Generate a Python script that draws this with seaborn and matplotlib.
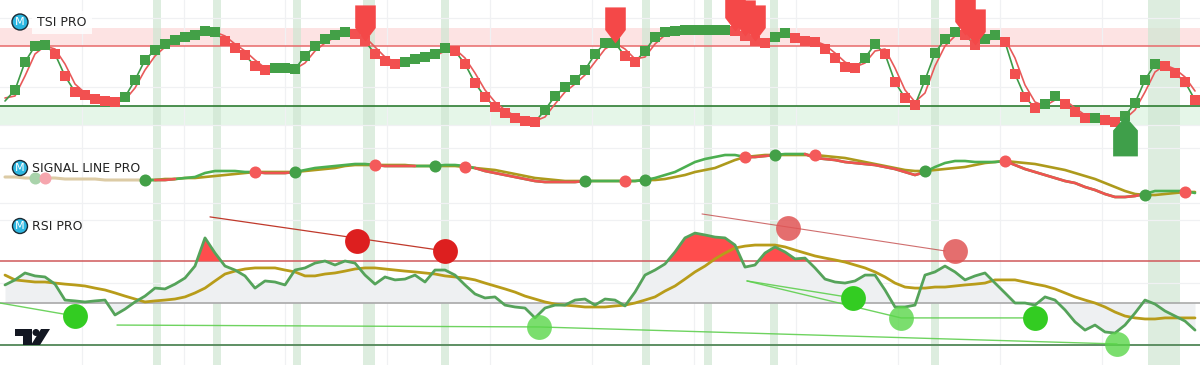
import numpy as np
import pandas as pd
import matplotlib
matplotlib.use("Agg")
import matplotlib.pyplot as plt
import seaborn as sns
from matplotlib.path import Path
from matplotlib.patches import Polygon, Ellipse

# ---------------- data ----------------
tsi = [-25, -14, 14, 30, 31, 22, 0, -16, -19, -23,
       -25, -26, -21, -4, 16, 26, 32, 36, 39, 41,
       45, 44, 35, 28, 21, 10, 6, 8, 8, 7,
       20, 30, 37, 41, 44, 42, 35, 22, 15, 12,
       14, 17, 19, 22, 28, 25, 12, -7, -21, -31,
       -37, -42, -45, -46, -34, -20, -11, -4, 6, 22,
       33, 33, 20, 14, 25, 39, 44, 45, 46, 46,
       46, 46, 46, 45, 40, 35, 33, 39, 43, 38,
       35, 34, 27, 18, 9, 8, 18, 32, 22, -6,
       -22, -29, -4, 23, 37, 44, 41, 31, 37, 41,
       34, 2, -21, -32, -28, -20, -28, -36, -42, -42,
       -44, -46, -40, -27, -4, 12, 10, 3, -6, -24]
tsi_signal = [-22, -20, 0, 22, 30, 27, 12, -8, -17, -21,
              -24, -25, -24, -12, 6, 20, 29, 34, 37, 40,
              43, 44, 40, 32, 25, 16, 8, 7, 8, 7,
              13, 25, 33, 39, 42, 43, 39, 29, 19, 14,
              13, 15, 18, 20, 25, 27, 18, 3, -14, -26,
              -34, -40, -43, -45, -41, -28, -16, -8, 1, 14,
              27, 33, 27, 17, 19, 32, 41, 44, 45, 46,
              46, 46, 46, 46, 43, 38, 34, 36, 41, 40,
              37, 35, 31, 23, 14, 9, 13, 25, 27, 8,
              -14, -26, -17, 10, 30, 40, 42, 36, 34, 39,
              37, 18, -9, -26, -30, -24, -24, -32, -39, -42,
              -43, -45, -43, -34, -16, 4, 11, 7, -1, -15]
tsi_levels = [30, -30]
tsi_zones = [(30, 48), (-49, -30)]
bear_arrow_bars = [36, 61, 73, 74, 75, 96, 97]
bull_arrow_bars = [112]

sig_fast = [3, 3, 2, 2, 2, 2, 1, 1, 1, 1,
            0, 0, 0, 0, 0, 0, 0, 1, 2, 3,
            7, 9, 9, 9, 8, 8, 7, 7, 7, 8,
            10, 12, 13, 14, 15, 16, 16, 15, 14, 14,
            14, 14, 14, 14, 15, 15, 14, 12, 9, 7,
            5, 3, 1, -1, -2, -2, -2, -2, -1, -1,
            -1, -1, -1, -1, 0, 2, 5, 8, 13, 18,
            21, 23, 25, 25, 23, 23, 24, 25, 26, 26,
            26, 22, 21, 20, 18, 17, 16, 15, 13, 11,
            8, 5, 8, 13, 17, 19, 19, 18, 18, 18,
            19, 15, 11, 8, 5, 2, -1, -3, -7, -10,
            -14, -17, -17, -16, -14, -11, -11, -11, -11, -13]
sig_slow = [3, 3, 2, 2, 2, 2, 1, 1, 1, 1,
            0, 0, 0, 0, 0, 0, 1, 1, 2, 2,
            3, 4, 5, 6, 7, 8, 8, 8, 8, 8,
            9, 10, 11, 12, 14, 15, 15, 15, 15, 15,
            15, 14, 14, 14, 14, 14, 13, 12, 11, 10,
            8, 6, 4, 2, 1, 0, -1, -1, -1, -1,
            -1, -1, -1, -1, 0, 0, 1, 3, 5, 8,
            10, 12, 16, 20, 23, 24, 25, 25, 25, 25,
            25, 25, 24, 23, 22, 20, 18, 16, 14, 12,
            10, 9, 9, 10, 11, 12, 13, 15, 17, 18,
            19, 18, 17, 16, 14, 12, 10, 7, 4, 1,
            -3, -7, -11, -14, -15, -15, -14, -13, -12, -12]
sig_warmup = 14
sig_bull_cross = [14, 29, 43, 58, 64, 77, 92, 114]
sig_bear_cross = [25, 37, 46, 62, 74, 81, 100, 118]
sig_faded_bull = [3]
sig_faded_bear = [4]

rsi = [58.6, 61.0, 64.3, 62.9, 62.4, 59.0, 51.4, 51.0, 50.5, 51.0,
       51.4, 44.3, 47.1, 50.5, 53.3, 57.1, 56.7, 59.0, 61.9, 67.6,
       81.0, 73.8, 67.6, 65.7, 62.9, 57.1, 60.5, 60.0, 58.6, 65.7,
       66.7, 69.0, 70.0, 68.1, 70.0, 69.0, 63.3, 59.0, 62.4, 61.0,
       61.4, 63.3, 60.0, 65.7, 65.7, 63.3, 58.6, 54.3, 52.4, 52.9,
       49.0, 48.1, 47.6, 42.9, 47.6, 49.0, 49.0, 51.4, 51.9, 49.0,
       51.9, 51.4, 48.6, 55.2, 63.3, 65.7, 68.6, 74.3, 81.0, 83.3,
       82.4, 81.4, 81.0, 77.6, 67.1, 68.1, 73.8, 76.7, 74.3, 71.0,
       71.4, 66.7, 61.4, 60.0, 59.5, 60.5, 63.3, 63.3, 56.2, 48.1,
       48.1, 49.0, 63.3, 64.8, 67.6, 64.8, 61.0, 62.9, 64.3, 59.5,
       54.8, 50.0, 50.0, 49.0, 52.9, 51.4, 46.7, 41.0, 37.1, 39.5,
       36.2, 35.7, 39.5, 45.2, 51.4, 49.5, 46.2, 43.8, 41.4, 37.1]
rsi_ma = [63.3, 61.0, 60.5, 60.0, 60.0, 59.5, 59.0, 58.6, 58.1, 57.1,
          56.2, 54.8, 53.3, 51.9, 50.5, 51.0, 51.4, 51.9, 52.9, 54.8,
          57.1, 60.5, 63.8, 65.2, 66.2, 66.7, 66.7, 66.7, 65.7, 64.8,
          62.9, 62.9, 63.8, 64.3, 65.2, 66.2, 66.7, 66.7, 66.2, 65.7,
          65.2, 64.8, 64.3, 63.8, 62.9, 62.4, 61.9, 61.0, 59.5, 58.1,
          56.7, 55.2, 53.3, 51.9, 50.5, 49.5, 49.0, 48.6, 48.1, 48.1,
          48.1, 48.6, 49.0, 50.0, 51.4, 52.9, 55.7, 58.1, 61.4, 64.8,
          67.6, 71.0, 73.8, 76.2, 77.1, 77.6, 77.6, 77.6, 76.7, 75.2,
          73.8, 72.4, 71.4, 70.5, 69.5, 68.1, 66.7, 64.8, 62.4, 59.5,
          57.6, 57.1, 57.1, 57.6, 57.6, 58.1, 58.6, 59.0, 59.5, 61.0,
          61.0, 61.0, 60.0, 59.0, 58.1, 56.7, 54.8, 52.9, 51.4, 50.0,
          48.1, 45.7, 43.8, 42.9, 42.4, 42.4, 42.9, 42.9, 42.9, 42.9]
rsi_levels = [70, 50, 30]

# divergences: (bar, rsi) pairs
bear_div_strong_line = [(20.5, 91.0), (44.0, 74.8)]
bear_div_strong_dots = [(35.2, 79.5), (44.0, 74.8)]
bear_div_weak_line = [(69.7, 92.4), (94.0, 74.8)]
bear_div_weak_dots = [(78.3, 85.7), (95.0, 74.8)]
bull_div_lines = [[(-0.5, 50.0), (7.0, 43.8)],
                  [(11.2, 39.5), (53.4, 38.6), (111.2, 30.5)],
                  [(74.2, 60.5), (84.8, 52.4)],
                  [(74.2, 60.5), (89.6, 42.9), (103.0, 42.9)]]
bull_div_strong_dots = [(7.0, 43.8), (84.8, 52.4), (103.0, 42.9)]
bull_div_weak_dots = [(53.4, 38.6), (89.6, 42.9), (111.2, 30.5)]

highlight_spans = [(14.8, 15.6), (20.8, 21.6), (28.8, 29.6), (35.8, 37.0),
                   (43.6, 44.4), (63.7, 64.5), (69.9, 70.7), (76.5, 77.3),
                   (92.6, 93.4), (114.3, 117.5)]
time_grid = [7.7, 17.9, 28.0, 38.2, 48.5, 58.7, 68.9, 79.1, 89.3, 99.5, 109.7]

labels = ["TSI PRO", "SIGNAL LINE PRO", "RSI PRO"]

# ---------------- style ----------------
sns.set_theme(style="white")
plt.rcParams['font.family'] = ['DejaVu Sans']

W, H = 1200, 365
fig = plt.figure(figsize=(12, 3.65), dpi=100)
fig.patch.set_facecolor("white")


def fx(px):
    return px / W


def fy(py):
    return 1 - py / H


ax_rsi = fig.add_axes([0, 0, 1, 160 / H])
ax_sig = fig.add_axes([0, fy(205), 1, 60 / H])
ax_tsi = fig.add_axes([0, fy(145), 1, 145 / H])
ax_rsi.set_zorder(1)
ax_sig.set_zorder(2)
ax_tsi.set_zorder(3)

n = len(tsi)
bars = np.arange(n)

for ax, ylim, hgrid in [(ax_tsi, (-69, 76), [58, -11, -49]),
                        (ax_sig, (-25, 35), [32, -23]),
                        (ax_rsi, (20.48, 96.67), [59.5, 89.5])]:
    ax.set_xlim(-0.5, n - 0.5)
    ax.set_ylim(*ylim)
    ax.set_facecolor("none")
    for s in ax.spines.values():
        s.set_visible(False)
    ax.set_xticks(time_grid)
    ax.set_yticks(hgrid)
    ax.grid(True, color="#f0f1f3", lw=0.9, zorder=0)
    ax.tick_params(length=0, labelbottom=False, labelleft=False)
    ax.set_xlabel("")
    ax.set_ylabel("")
    for a, b in highlight_spans:
        ax.axvspan(a, b, color="#cfe6d2", alpha=0.7, lw=0, zorder=0.5)

# ---------------- TSI panel ----------------
ax_tsi.axhspan(*tsi_zones[0], color="#fde3e3", lw=0, zorder=0.3)
ax_tsi.axhspan(*tsi_zones[1], color="#e5f6e8", lw=0, zorder=0.3)
ax_tsi.axhline(tsi_levels[0], color="#e86a6a", lw=1.1, zorder=1)
ax_tsi.axhline(tsi_levels[1], color="#2e7d32", lw=1.2, zorder=1)

df_tsi = pd.DataFrame({"bar": bars, "tsi": tsi, "sig": tsi_signal})
df_tsi["dir"] = np.where(df_tsi["tsi"] >= df_tsi["sig"], "up", "down")
sns.lineplot(data=df_tsi, x="bar", y="sig", ax=ax_tsi, color="#e85a5a", lw=1.2, zorder=2)
sns.lineplot(data=df_tsi, x="bar", y="tsi", ax=ax_tsi, color="#3d9a47", lw=1.2, zorder=2)
sns.scatterplot(data=df_tsi.iloc[1:], x="bar", y="tsi", hue="dir",
                palette={"up": "#43a047", "down": "#f25050"}, marker="s", s=42,
                linewidth=0, legend=False, ax=ax_tsi, zorder=3)

down_arrow = Path([(-0.57, 2.0), (0.57, 2.0), (0.57, 0.75), (0.0, 0.0), (-0.57, 0.75), (-0.57, 2.0)],
                  [Path.MOVETO, Path.LINETO, Path.LINETO, Path.LINETO, Path.LINETO, Path.CLOSEPOLY])
up_arrow = Path([(-0.62, -2.0), (0.62, -2.0), (0.62, -0.7), (0.0, 0.0), (-0.62, -0.7), (-0.62, -2.0)],
                [Path.MOVETO, Path.LINETO, Path.LINETO, Path.LINETO, Path.LINETO, Path.CLOSEPOLY])
df_bear = pd.DataFrame({"bar": bear_arrow_bars, "v": [tsi[b] for b in bear_arrow_bars]})
df_bull = pd.DataFrame({"bar": bull_arrow_bars, "v": [tsi[b] for b in bull_arrow_bars]})
sns.scatterplot(data=df_bear, x="bar", y="v", marker=down_arrow, s=2700, color="#f44848",
                linewidth=0, legend=False, ax=ax_tsi, zorder=4, clip_on=False)
sns.scatterplot(data=df_bull, x="bar", y="v", marker=up_arrow, s=3300, color="#3f9f4a",
                linewidth=0, legend=False, ax=ax_tsi, zorder=4, clip_on=False)

# ---------------- Signal panel ----------------
df_sig = pd.DataFrame({"bar": bars, "fast": sig_fast, "slow": sig_slow})
warm = df_sig.iloc[:sig_warmup + 1]
live = df_sig.iloc[sig_warmup:]
sns.lineplot(data=warm, x="bar", y="slow", ax=ax_sig, color="#dccba5", lw=2.2, zorder=2)
sns.lineplot(data=live, x="bar", y="slow", ax=ax_sig, color="#ad9a1c", lw=1.9, zorder=2)
sns.lineplot(data=live, x="bar", y="fast", ax=ax_sig, color="#4caf50", lw=1.9, zorder=3)
fast_arr = np.array(sig_fast, float)
slow_arr = np.array(sig_slow, float)
seg_red = (fast_arr[:-1] + fast_arr[1:]) < (slow_arr[:-1] + slow_arr[1:])
seg_red[:sig_warmup] = False
i = 0
while i < len(seg_red):
    if seg_red[i]:
        j = i
        while j < len(seg_red) and seg_red[j]:
            j += 1
        sns.lineplot(data=df_sig.iloc[i:j + 1], x="bar", y="fast", ax=ax_sig,
                     color="#ef5350", lw=1.9, zorder=3.5)
        i = j
    else:
        i += 1

for lst, col, z in [(sig_bull_cross, "#43a047", 5), (sig_bear_cross, "#f45a5a", 5),
                    (sig_faded_bull, "#a9d3ab", 5), (sig_faded_bear, "#f6a6ae", 5)]:
    d = pd.DataFrame({"bar": lst, "v": [sig_slow[b] for b in lst]})
    sns.scatterplot(data=d, x="bar", y="v", color=col, s=75, linewidth=0,
                    legend=False, ax=ax_sig, zorder=z)

# ---------------- RSI panel ----------------
rsi_arr = np.array(rsi)
ax_rsi.fill_between(bars, rsi_arr, rsi_levels[1], color="#eef0f2", lw=0, zorder=1)
ax_rsi.fill_between(bars, rsi_arr, rsi_levels[0], where=rsi_arr > rsi_levels[0],
                    interpolate=True, color="#ff4d4d", lw=0, zorder=1.5)
ax_rsi.axhline(rsi_levels[0], color="#d0585a", lw=1.1, zorder=1.2)
ax_rsi.axhline(rsi_levels[1], color="#a3a3a3", lw=1.1, zorder=1.2)
ax_rsi.axhline(rsi_levels[2], color="#5d8f63", lw=1.4, zorder=1.2)

df_rsi = pd.DataFrame({"bar": bars, "rsi": rsi, "ma": rsi_ma})
sns.lineplot(data=df_rsi, x="bar", y="ma", ax=ax_rsi, color="#b89c1a", lw=2.0, zorder=3)
sns.lineplot(data=df_rsi, x="bar", y="rsi", ax=ax_rsi, color="#55a35a", lw=2.0, zorder=3.2)


def div_line(pts, color, lw, alpha=1.0):
    d = pd.DataFrame(pts, columns=["bar", "v"])
    sns.lineplot(data=d, x="bar", y="v", ax=ax_rsi, color=color, lw=lw, alpha=alpha,
                 sort=False, estimator=None, zorder=4)


def div_dots(pts, color, alpha=1.0):
    d = pd.DataFrame(pts, columns=["bar", "v"])
    sns.scatterplot(data=d, x="bar", y="v", ax=ax_rsi, color=color, s=320, alpha=alpha,
                    linewidth=0, legend=False, zorder=5)


div_line(bear_div_strong_line, "#c0392b", 0.9)
div_line(bear_div_weak_line, "#c44a4a", 0.8, 0.8)
for pts in bull_div_lines:
    div_line(pts, "#5fcf4f", 1.0, 0.9)
div_dots(bear_div_strong_dots, "#dd1f1f")
div_dots(bear_div_weak_dots, "#e05555", 0.85)
div_dots(bull_div_strong_dots, "#33cc22")
div_dots(bull_div_weak_dots, "#5ad64a", 0.8)

# ---------------- labels ----------------
label_spec = [(20, 22, 8, 37), (20, 168, 7.5, 32), (20, 226, 7.5, 32)]
for (cx, cy, r, tx), txt in zip(label_spec, labels):
    ell = Ellipse((fx(cx), fy(cy)), width=2 * r / W, height=2 * r / H,
                  transform=fig.transFigure, facecolor="#2cb6e0",
                  edgecolor="#1b2a33", lw=1.0, zorder=10)
    fig.patches.append(ell)
    fig.text(fx(cx), fy(cy) - 0.001, "M", color="white", fontsize=8, ha="center",
             va="center", zorder=11)
    kw = {}
    if txt == "TSI PRO":
        kw["bbox"] = dict(boxstyle="square,pad=0.4", fc="white", ec="none", alpha=0.85)
    fig.text(fx(tx), fy(cy), txt, color="#222222", fontsize=9, ha="left",
             va="center", zorder=11, **kw)

# TradingView logo
logo_parts = [
    [(15, 329), (32, 329), (32, 345), (23, 345), (23, 336), (15, 336)],
    [(41, 329), (50, 329), (40, 345), (31, 345)],
]
for poly in logo_parts:
    fig.patches.append(Polygon([(fx(x), fy(y)) for x, y in poly], closed=True,
                               transform=fig.transFigure, facecolor="#131722",
                               edgecolor="none", zorder=10))
fig.patches.append(Ellipse((fx(36), fy(332.5)), width=7 / W, height=7 / H,
                           transform=fig.transFigure, facecolor="#131722",
                           edgecolor="none", zorder=10))

fig.savefig("out.png", dpi=100)
